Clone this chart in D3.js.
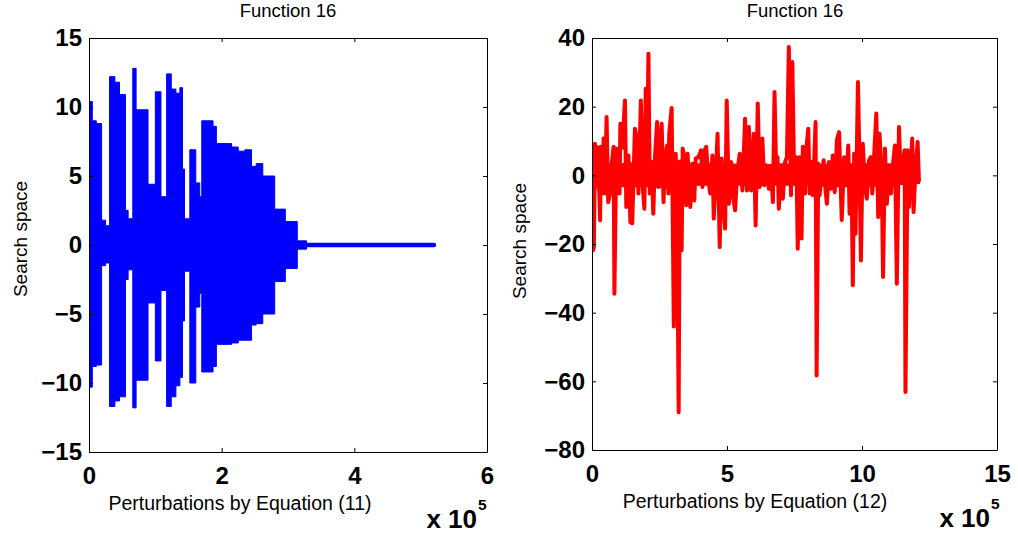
<!DOCTYPE html>
<html>
<head>
<meta charset="utf-8">
<script src="https://cdn.jsdelivr.net/npm/d3@7"></script>
<style>
  body { margin: 0; background: #fff; }
  svg { display: block; font-family: "Liberation Sans", Arial, Helvetica, sans-serif; }
</style>
</head>
<body>
<svg id="chart" width="1018" height="537"></svg>
<script>
// Left panel: envelope of the dense blue oscillation, step blocks (x in units of 1e5)
const blueStart = [0, 0.05, 0.11, 0.19, 0.25, 0.31, 0.39, 0.46, 0.55, 0.59, 0.66, 0.71, 0.89, 1.00,
  1.085, 1.17, 1.24, 1.31, 1.37, 1.41, 1.44, 1.52, 1.61, 1.67, 1.70, 1.87, 1.92, 2.15, 2.25, 2.35,
  2.45, 2.52, 2.62, 2.80, 2.96, 3.14];
const blueUpper = [10.4, 9.0, 8.8, 1.8, 1.4, 12.2, 11.8, 10.9, 2.5, 1.9, 12.8, 9.8, 4.4, 11.1,
  3.5, 12.4, 11.3, 11.0, 11.4, 5.5, 1.9, 6.9, 4.5, 3.5, 9.0, 8.6, 7.35, 7.1, 6.8, 6.9,
  5.7, 5.9, 5.0, 2.6, 1.7, 0.3];
const blueLower = [-10.3, -8.8, -8.7, -1.5, -1.3, -11.7, -11.3, -11.0, -2.5, -1.8, -11.8, -9.8, -4.2, -8.4,
  -3.3, -11.7, -11.0, -10.2, -9.6, -5.5, -1.9, -10.0, -4.5, -3.5, -9.2, -8.8, -7.2, -7.1, -6.9, -6.9,
  -5.8, -5.7, -5.0, -2.65, -1.7, -0.3];
const blueEnd = 3.28;
const blueFlat = [3.28, 5.2]; // flat tail at 0

// Right panel: red series (x in units of 1e5)
const redX = [0.00, 0.04, 0.07, 0.11, 0.15, 0.22, 0.30, 0.33, 0.38, 0.43, 0.48, 0.54, 0.60, 0.68, 0.73,
  0.80, 0.83, 0.90, 0.98, 1.02, 1.05, 1.12, 1.22, 1.27, 1.35, 1.42, 1.49, 1.59, 1.67, 1.72,
  1.81, 1.89, 1.94, 1.99, 2.04, 2.09, 2.14, 2.21, 2.27, 2.33, 2.41, 2.46, 2.53, 2.58, 2.65,
  2.70, 2.78, 2.83, 2.86, 2.95, 3.03, 3.10, 3.15, 3.21, 3.25, 3.32, 3.36, 3.42, 3.49, 3.54,
  3.64, 3.72, 3.79, 3.84, 3.94, 4.04, 4.09, 4.14, 4.23, 4.31, 4.38, 4.46, 4.51, 4.58, 4.65,
  4.73, 4.80, 4.88, 4.93, 4.99, 5.07, 5.15, 5.22, 5.30, 5.37, 5.47, 5.57, 5.67, 5.74, 5.81,
  5.89, 5.99, 6.06, 6.14, 6.21, 6.31, 6.38, 6.46, 6.55, 6.63, 6.70, 6.76, 6.83, 6.87, 6.92,
  7.00, 7.07, 7.15, 7.22, 7.29, 7.37, 7.42, 7.49, 7.57, 7.62, 7.69, 7.76, 7.81, 7.89, 7.94,
  8.01, 8.06, 8.13, 8.18, 8.23, 8.28, 8.32, 8.38, 8.43, 8.50, 8.58, 8.65, 8.70, 8.78, 8.85,
  8.92, 8.99, 9.07, 9.15, 9.25, 9.34, 9.42, 9.49, 9.54, 9.61, 9.66, 9.71, 9.76, 9.85, 9.91,
  9.96, 10.03, 10.11, 10.18, 10.26, 10.33, 10.38, 10.45, 10.53, 10.60, 10.65, 10.73, 10.78, 10.85, 10.92,
  11.00, 11.07, 11.15, 11.22, 11.29, 11.37, 11.44, 11.52, 11.58, 11.61, 11.69, 11.74, 11.81, 11.86, 11.91,
  11.98, 12.06, 12.11];
const redY = [4, -21.8, -21, 9.2, -3, 8.2, -13.1, 8.3, -5.3, 10.7, -5.3, 17, -7.8, -4.9, 3.4,
  8.3, -34.5, 7.8, -2, -5.3, 15, 8, 21.8, -9.2, 5.8, -13.6, -14, 13.6, 10.2, -5.3,
  21.8, -4.3, -9.7, 25.2, 3.4, 35.4, -5.3, 3.9, -11.2, 4.9, 15.5, -3.4, 9.7, 15, -7.8,
  4.9, 8.7, -5.3, 12.1, 19.6, -44, 6.3, -9.2, -69, 4, -21.8, 7.8, 5.3, -8.7, 6.3,
  -9.2, 3.4, -7.3, 4.9, 5.3, 7.3, -3.4, 6.8, 8.3, -1.5, -5.3, 5.8, -12.6, -1, 12.1,
  -20.9, 4.9, -10.2, -15.5, 21.8, -8.3, 3.9, -6, -10.2, 0, 6.3, -4.4, 16.5, -4.4, 14.1,
  -4.4, 12.1, -14.6, 20.9, -3.4, 10.7, -2.9, 2.9, -3.9, 1.5, -7.8, 24.3, -1.9, 5.3, -9.7,
  2.4, -6.8, 3.9, 5.3, 37.4, -5.8, 33, -2.4, 5.3, -21.4, 5.3, -18.4, 8.3, -5.3, 7.8,
  13.6, -5.3, 3.9, -5.8, 4.4, 15.5, -58.3, 3.4, -5.8, 0.5, 4.4, -4.4, -8.3, 3.9, -3.9,
  5.8, -4.9, 10.2, 12.6, -13, 5.3, -2.4, 8.7, -11.2, 2.4, -32, 6.3, -17, 27.2, 2.4,
  -24.8, 9.2, -3.4, -6.8, 4.4, 5.3, -5.3, 5.8, 18, -12.1, 12.1, -0.5, -29.6, 7.8, -8.3,
  2.4, -5.3, 3.4, 8.7, -31.6, 14.1, -1.9, 3.9, 7.3, -63.1, 7.3, -9.2, 3.4, 10.7, -10.7,
  1.5, 9.7, -1.9];

// solid core of the red oscillation (dense part around zero)
const redCoreX = [0, 1, 2, 3, 4, 5, 6, 7, 8, 9, 10, 11, 12.15];
const redCoreHi = [4, 3.5, 4, 3, 3.5, 3.5, 3, 3.5, 3, 3.5, 3.5, 3.5, 3];
const redCoreLo = [-4, -3.5, -3.5, -4, -3, -3, -3, -3, -3, -3.5, -3.5, -3, -2.5];

const leftXTicks = [0, 2, 4, 6];
const leftYTicks = [-15, -10, -5, 0, 5, 10, 15];
const rightXTicks = [0, 5, 10, 15];
const rightYTicks = [-80, -60, -40, -20, 0, 20, 40];

const svg = d3.select("#chart");
const fmt = (d) => (d < 0 ? "\u2212" + Math.abs(d) : String(d));

function panel(cfg) {
  const x = d3.scaleLinear().domain(cfg.xDomain).range([cfg.left, cfg.right]);
  const y = d3.scaleLinear().domain(cfg.yDomain).range([cfg.bottom, cfg.top]);

  svg.append("clipPath")
    .attr("id", cfg.id)
    .append("rect")
    .attr("x", cfg.left)
    .attr("y", cfg.top)
    .attr("width", cfg.right - cfg.left)
    .attr("height", cfg.bottom - cfg.top);

  const plot = svg.append("g").attr("clip-path", `url(#${cfg.id})`);

  return { x, y, plot };
}

function axes(cfg, x, y) {
  const styleAxis = (g) => {
    g.attr("font-family", null).attr("font-size", 24).attr("font-weight", "bold");
    g.selectAll("line").attr("stroke", "#000");
    g.select(".domain").attr("stroke", "#000");
  };

  svg.append("g")
    .attr("transform", `translate(0,${cfg.bottom})`)
    .call(d3.axisBottom(x).tickValues(cfg.xTicks).tickSize(-4).tickSizeOuter(0).tickPadding(15).tickFormat(fmt))
    .call(styleAxis);

  svg.append("g")
    .attr("transform", `translate(0,${cfg.top})`)
    .call(d3.axisTop(x).tickValues(cfg.xTicks).tickSize(-4).tickSizeOuter(0).tickFormat(""))
    .call(styleAxis);

  svg.append("g")
    .attr("transform", `translate(${cfg.left},0)`)
    .call(d3.axisLeft(y).tickValues(cfg.yTicks).tickSize(-4).tickSizeOuter(0).tickPadding(7).tickFormat(fmt))
    .call(styleAxis);

  svg.append("g")
    .attr("transform", `translate(${cfg.right},0)`)
    .call(d3.axisRight(y).tickValues(cfg.yTicks).tickSize(-4).tickSizeOuter(0).tickFormat(""))
    .call(styleAxis);

  // title and labels
  svg.append("text")
    .attr("x", cfg.titleX).attr("y", 17)
    .attr("text-anchor", "middle").attr("font-size", 18.5)
    .text("Function 16");

  svg.append("text")
    .attr("x", cfg.xLabelX).attr("y", cfg.xLabelY)
    .attr("text-anchor", "middle").attr("font-size", 19.5)
    .text(cfg.xLabel);

  svg.append("text")
    .attr("transform", `translate(${cfg.yLabelX},${cfg.yLabelY}) rotate(-90)`)
    .attr("text-anchor", "middle").attr("font-size", 19)
    .text("Search space");

  svg.append("text")
    .attr("x", cfg.expX).attr("y", cfg.expY)
    .attr("text-anchor", "end").attr("font-size", 26).attr("font-weight", "bold")
    .text("x 10");

  svg.append("text")
    .attr("x", cfg.expX + 1).attr("y", cfg.expY - 18)
    .attr("font-size", 15.5).attr("font-weight", "bold")
    .text("5");
}

// ---- left panel ----
const leftCfg = {
  id: "clipL", left: 89, right: 487, top: 38, bottom: 452,
  xDomain: [0, 6], yDomain: [-15, 15], xTicks: leftXTicks, yTicks: leftYTicks,
  titleX: 288, xLabel: "Perturbations by Equation (11)", xLabelX: 240, xLabelY: 510,
  yLabelX: 27, yLabelY: 239, expX: 477, expY: 528,
};
const L = panel(leftCfg);

const bluePts = blueStart.map((s, i) => ({ x: s, hi: blueUpper[i], lo: blueLower[i] }));
bluePts.push({ x: blueEnd, hi: blueUpper[blueUpper.length - 1], lo: blueLower[blueLower.length - 1] });

L.plot.append("path")
  .datum(bluePts)
  .attr("fill", "#0000ff")
  .attr("stroke", "#0000ff")
  .attr("stroke-width", 1)
  .attr("d", d3.area()
    .curve(d3.curveStepAfter)
    .x((d) => L.x(d.x))
    .y0((d) => L.y(d.lo))
    .y1((d) => L.y(d.hi)));

L.plot.append("path")
  .datum(blueFlat)
  .attr("fill", "none")
  .attr("stroke", "#0000ff")
  .attr("stroke-width", 4.5)
  .attr("stroke-linecap", "round")
  .attr("d", d3.line().x((d) => L.x(d)).y(() => L.y(0)));

axes(leftCfg, L.x, L.y);

// ---- right panel ----
const rightCfg = {
  id: "clipR", left: 592, right: 997, top: 38, bottom: 450,
  xDomain: [0, 15], yDomain: [-80, 40], xTicks: rightXTicks, yTicks: rightYTicks,
  titleX: 795, xLabel: "Perturbations by Equation (12)", xLabelX: 755, xLabelY: 508,
  yLabelX: 526, yLabelY: 241, expX: 990, expY: 527,
};
const R = panel(rightCfg);

R.plot.append("path")
  .datum(redCoreX.map((d, i) => ({ x: d, hi: redCoreHi[i], lo: redCoreLo[i] })))
  .attr("fill", "#ff0000")
  .attr("d", d3.area()
    .curve(d3.curveMonotoneX)
    .x((d) => R.x(d.x))
    .y0((d) => R.y(d.lo))
    .y1((d) => R.y(d.hi)));

R.plot.append("path")
  .datum(redX.map((d, i) => [d, redY[i]]))
  .attr("fill", "none")
  .attr("stroke", "#ff0000")
  .attr("stroke-width", 4)
  .attr("stroke-linejoin", "round")
  .attr("d", d3.line().x((d) => R.x(d[0])).y((d) => R.y(d[1])));

axes(rightCfg, R.x, R.y);
</script>
</body>
</html>
